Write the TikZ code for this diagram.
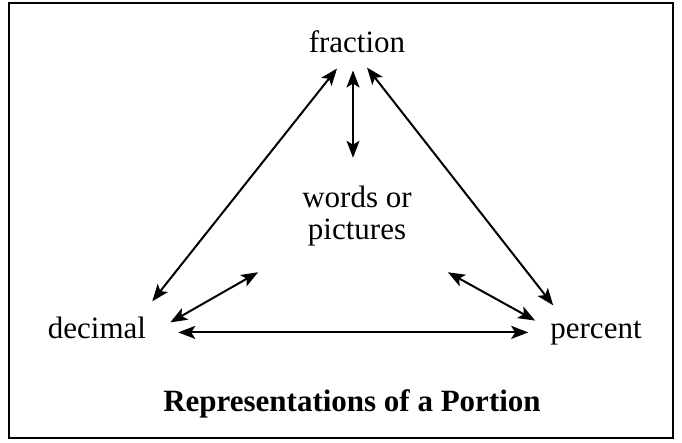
\documentclass[tikz,border=0pt]{standalone}
\usepackage{fontspec}
\setmainfont{Liberation Serif}
\usetikzlibrary{arrows.meta,positioning}

\begin{document}
\begin{tikzpicture}[x=1pt,y=-1pt,
  label/.style={inner sep=0pt,font=\fontsize{31}{32}\selectfont},
  biarrow/.style={line width=2pt,{Stealth[length=17pt,width=13pt,inset=4pt]}-{Stealth[length=17pt,width=13pt,inset=4pt]}}]
 \useasboundingbox (0,0) rectangle (682,442);
 \draw[line width=1.8pt] (9,3) rectangle (673,438);
 %
 \node[label,anchor=base] (frac) at (357,52) {fraction};
 \node[label,align=center] (words) at (357,216) {words or\\pictures};
 \node[label,anchor=base] (dec) at (97,338) {decimal};
 \node[label,anchor=base] (pct) at (596,338) {percent};
 \node[label,anchor=base,font=\fontsize{31}{32}\selectfont\bfseries] (title) at (352,411) {Representations of a Portion};
 %
 \draw[biarrow] ([xshift=-20pt,yshift=-16pt]frac.south) -- ([xshift=6pt,yshift=15pt]dec.north east);
 \draw[biarrow] ([xshift=-4pt,yshift=-18pt]frac.south) -- ([xshift=-4pt,yshift=28pt]words.north);
 \draw[biarrow] ([xshift=10pt,yshift=-15pt]frac.south) -- ([xshift=3pt,yshift=15pt]pct.north west);
 \draw[biarrow] ([xshift=24pt,yshift=5pt]dec.east) -- ([xshift=-44pt,yshift=-26pt]words.south west);
 \draw[biarrow] ([xshift=-15pt,yshift=12pt]pct.west) -- ([xshift=36pt,yshift=-26pt]words.south east);
 \draw[biarrow] ([xshift=32pt,yshift=-5pt]dec.east) -- ([xshift=-22pt,yshift=-5pt]pct.west |- dec.east);
\end{tikzpicture}
\end{document}
